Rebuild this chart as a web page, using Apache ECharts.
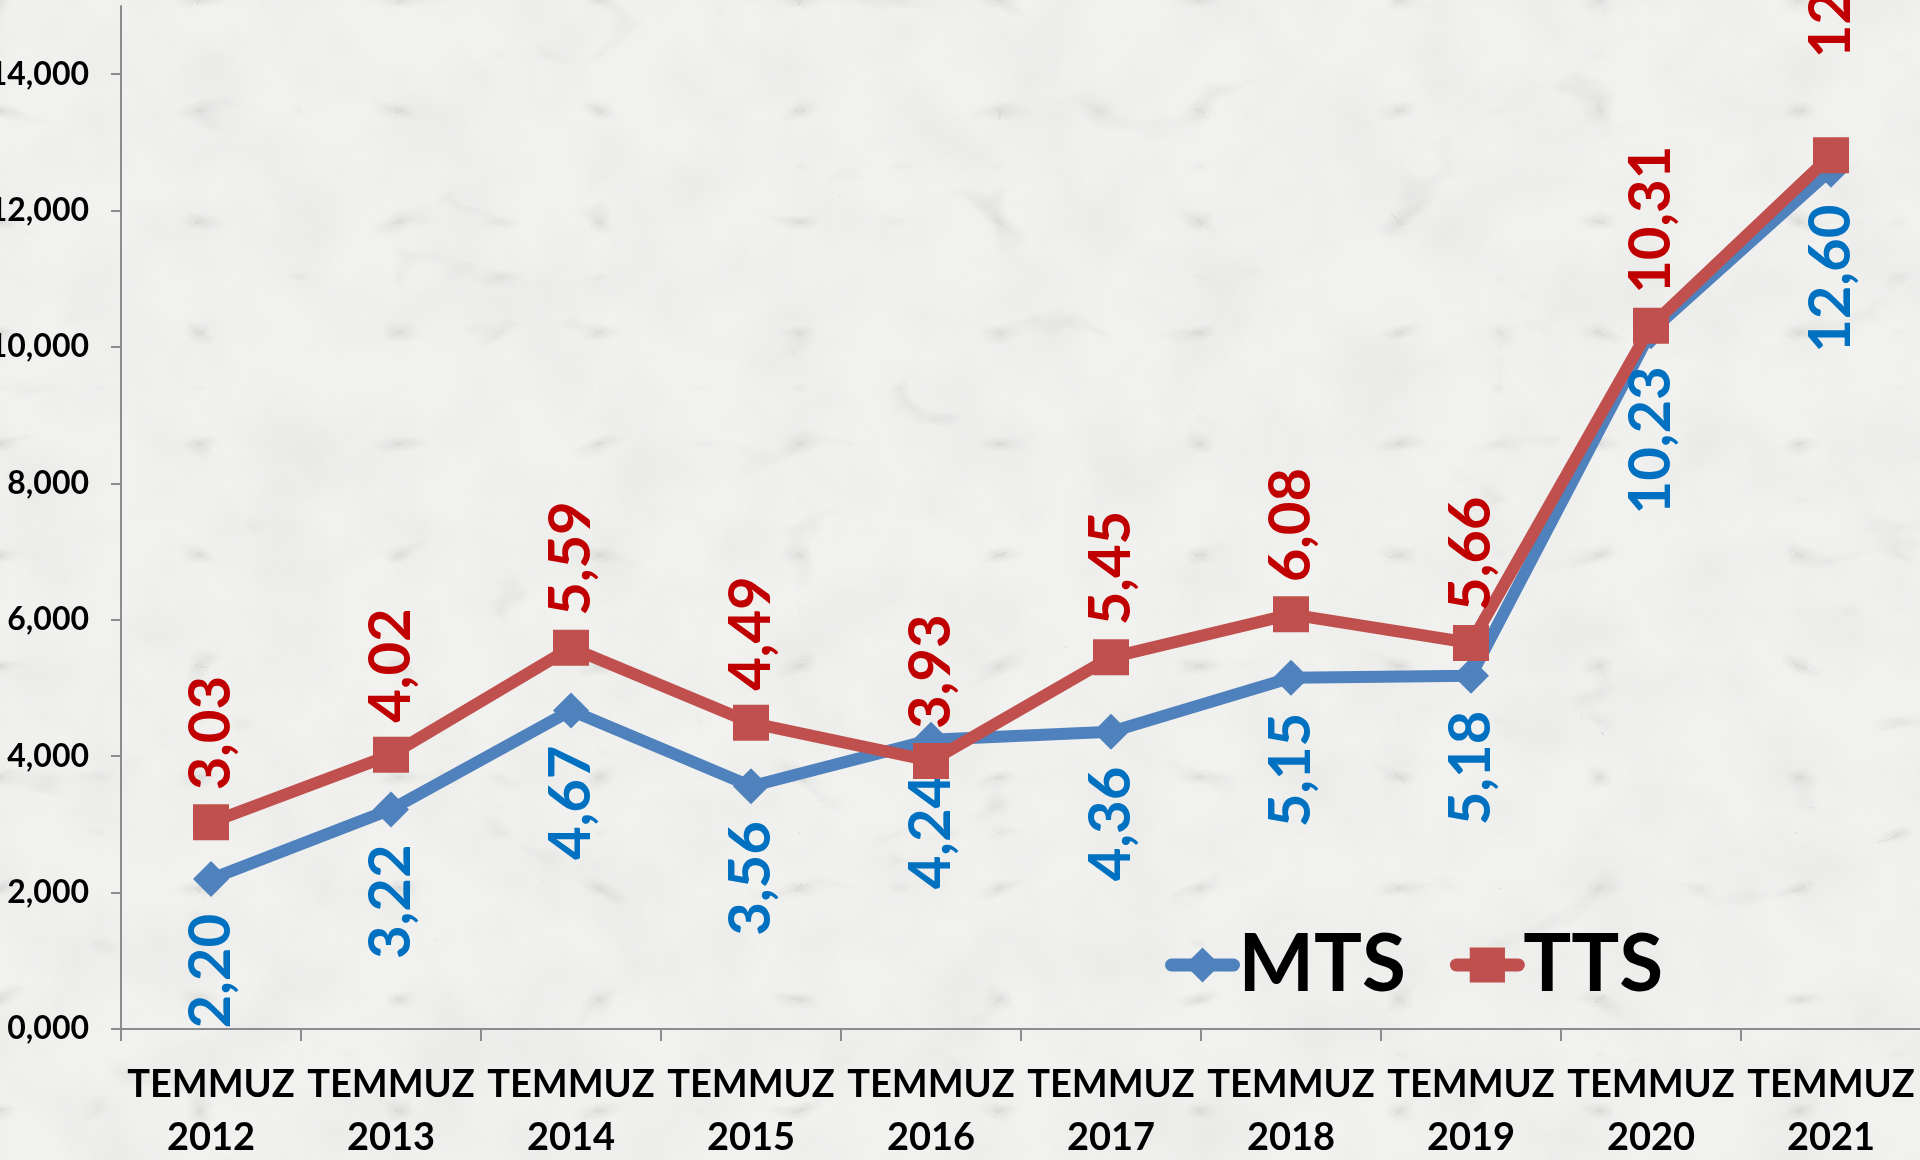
<!DOCTYPE html>
<html>
<head>
<meta charset="utf-8">
<title>MTS / TTS</title>
<script src="https://cdn.jsdelivr.net/npm/echarts@6/dist/echarts.min.js"></script>
<style>
  html, body { margin: 0; padding: 0; }
  body {
    width: 1920px; height: 1160px; overflow: hidden;
    background-color: #f1f1f0;
    background-image: url("data:image/svg+xml;utf8,<svg xmlns='http://www.w3.org/2000/svg' width='1920' height='1160'><filter id='m' x='0' y='0' width='100%' height='100%'><feTurbulence type='turbulence' baseFrequency='0.005 0.009' numOctaves='3' seed='11'/><feColorMatrix type='matrix' values='0 0 0 0 0.55  0 0 0 0 0.55  0 0 0 0 0.54  -2 -2 -2 0 1'/></filter><filter id='n' x='0' y='0' width='100%' height='100%'><feTurbulence type='fractalNoise' baseFrequency='0.012' numOctaves='5' seed='3'/><feColorMatrix type='matrix' values='0 0 0 0 0.55  0 0 0 0 0.55  0 0 0 0 0.54  0 0 0 -1.4 0.85'/></filter><rect width='100%' height='100%' filter='url(%23n)' opacity='0.22'/><rect width='100%' height='100%' filter='url(%23m)' opacity='0.4'/></svg>");
  }
  #chart { width: 1920px; height: 1160px; }
</style>
</head>
<body>
<div id="chart"></div>
<script>
// Temmuz ayı değerleri, 2012–2021
const years = ['2012', '2013', '2014', '2015', '2016', '2017', '2018', '2019', '2020', '2021'];
const mts = [2.20, 3.22, 4.67, 3.56, 4.24, 4.36, 5.15, 5.18, 10.23, 12.60];
const tts = [3.03, 4.02, 5.59, 4.49, 3.93, 5.45, 6.08, 5.66, 10.31, 12.81];
const yTicks = [0, 2, 4, 6, 8, 10, 12, 14];

const categories = years.map(y => 'TEMMUZ\n' + y);
const fmt = (v, d) => v.toFixed(d).replace('.', ',');
const FONT = 'Lato';
const axisGray = '#8c8c8c';

const chart = echarts.init(document.getElementById('chart'), null, { renderer: 'canvas' });

const valueLabel = (color, pos, dist, align) => ({
  show: true,
  position: pos,
  distance: dist,
  rotate: 90,
  align: align,
  verticalAlign: 'middle',
  color: color,
  fontFamily: FONT,
  fontWeight: 'bold',
  fontSize: 58,
  formatter: p => fmt(p.value, 2)
});

// the last TTS label sits higher, running off the top edge
const ttsData = tts.map((v, i) =>
  i === tts.length - 1 ? { value: v, label: { distance: 79 } } : v
);

chart.setOption({
  backgroundColor: 'transparent',
  animation: false,
  grid: {
    left: 121, top: 6, width: 1800, height: 1023,
    containLabel: false,
    outerBoundsMode: 'none'
  },
  legend: {
    data: ['MTS', 'TTS'],
    left: 1165,
    top: 925,
    padding: 0,
    itemWidth: 62,
    itemHeight: 44,
    itemGap: 44,
    lineStyle: { width: 13, cap: 'round' },
    textStyle: { fontFamily: FONT, fontWeight: 'bold', fontSize: 80, color: '#000' }
  },
  xAxis: {
    type: 'category',
    data: categories,
    boundaryGap: true,
    axisLine: { lineStyle: { color: axisGray, width: 2 } },
    axisTick: { show: true, length: 12, lineStyle: { color: axisGray, width: 2 } },
    axisLabel: {
      interval: 0,
      margin: 29,
      color: '#000',
      fontFamily: FONT,
      fontWeight: 'bold',
      fontSize: 38,
      lineHeight: 53
    },
    splitLine: { show: false }
  },
  yAxis: {
    type: 'value',
    min: 0,
    max: 15,
    interval: 2,
    axisLine: { show: true, lineStyle: { color: axisGray, width: 2 } },
    axisTick: { show: true, length: 10, customValues: yTicks, lineStyle: { color: axisGray, width: 2 } },
    axisLabel: {
      customValues: yTicks,
      margin: 32,
      color: '#000',
      fontFamily: FONT,
      fontWeight: 'bold',
      fontSize: 32,
      formatter: v => fmt(v, 3)
    },
    splitLine: { show: false }
  },
  series: [
    {
      name: 'MTS',
      type: 'line',
      data: mts,
      symbol: 'diamond',
      symbolSize: 36,
      itemStyle: { color: '#4F81BD' },
      lineStyle: { color: '#4F81BD', width: 12, cap: 'round', join: 'round' },
      label: valueLabel('#0070C0', 'bottom', 17, 'right'),
      z: 2
    },
    {
      name: 'TTS',
      type: 'line',
      data: ttsData,
      symbol: 'rect',
      symbolSize: 36,
      itemStyle: { color: '#C0504D' },
      lineStyle: { color: '#C0504D', width: 12, cap: 'round', join: 'round' },
      label: valueLabel('#C00000', 'top', 14, 'left'),
      z: 3
    }
  ]
});
</script>
</body>
</html>
